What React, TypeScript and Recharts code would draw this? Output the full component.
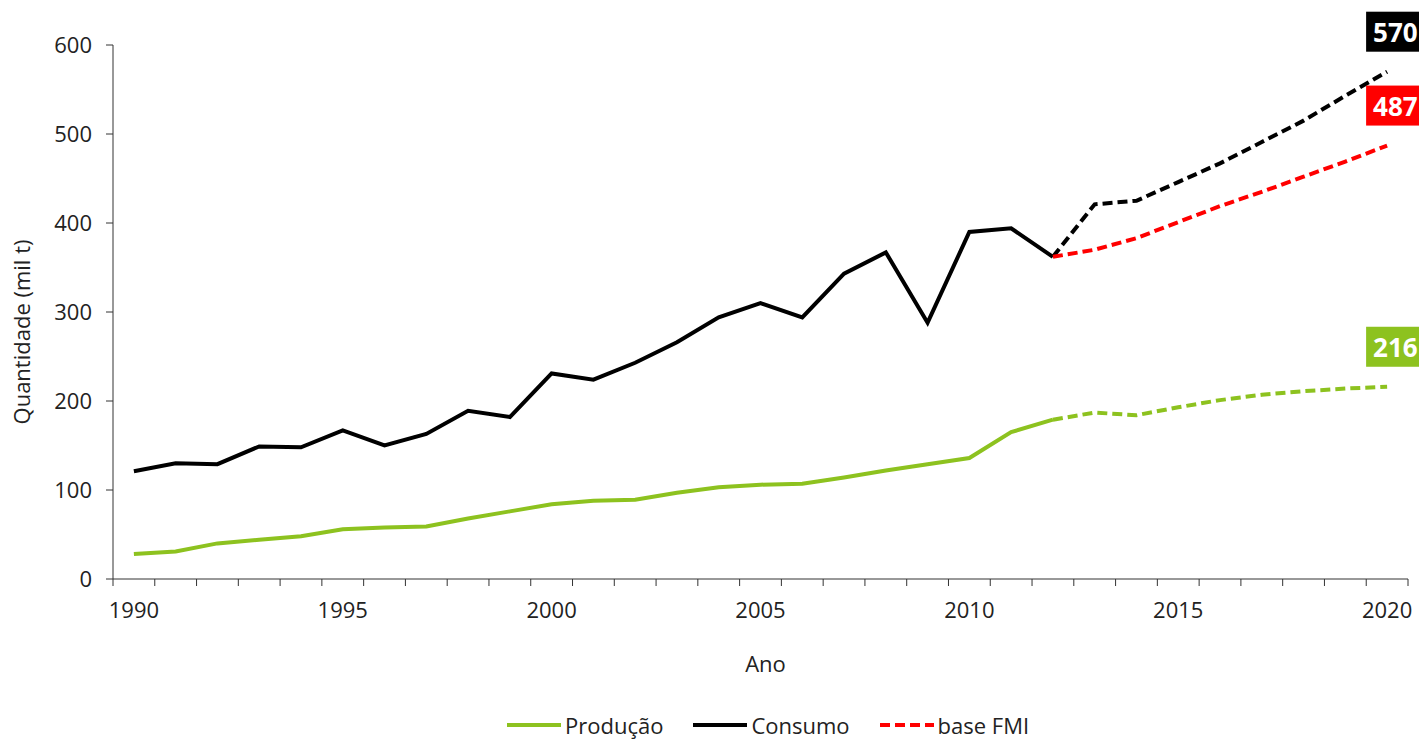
import { LineChart, Line, XAxis, YAxis, Legend, Label } from "recharts";

// Anos (categorias)
const ANOS = [
    1990, 1991, 1992, 1993, 1994, 1995, 1996, 1997, 1998, 1999, 2000,
    2001, 2002, 2003, 2004, 2005, 2006, 2007, 2008, 2009, 2010,
    2011, 2012, 2013, 2014, 2015, 2016, 2017, 2018, 2019, 2020
];

// Histórico 1990-2012 (mil t)
const PRODUCAO = [28, 31, 40, 44, 48, 56, 58, 59, 68, 76, 84, 88, 89, 97, 103, 106, 107, 114, 122, 129, 136, 165, 179];
const CONSUMO = [121, 130, 129, 149, 148, 167, 150, 163, 189, 182, 231, 224, 243, 266, 294, 310, 294, 343, 367, 288, 390, 394, 362];

// Projeções 2012-2020
const PROJ_INICIO = 2012;
const PRODUCAO_PROJ = [179, 187, 184, 193, 201, 207, 211, 214, 216];
const CONSUMO_PROJ = [362, 421, 425, 446, 467, 491, 515, 543, 570];
const BASE_FMI = [362, 370, 383, 401, 419, 435, 452, 469, 487];

const Y_TICKS = [0, 100, 200, 300, 400, 500, 600];
const X_LABELS = [1990, 1995, 2000, 2005, 2010, 2015, 2020];
const LEGENDA = ["Produção", "Consumo", "base FMI"];

const VERDE = "#8dc21f";
const PRETO = "#000000";
const VERMELHO = "#ff0000";
const FONT = '"Open Sans", sans-serif';

const data = ANOS.map((ano, i) => {
    const j = ano - PROJ_INICIO;
    return {
        ano,
        producao: i < PRODUCAO.length ? PRODUCAO[i] : null,
        consumo: i < CONSUMO.length ? CONSUMO[i] : null,
        producaoProj: j >= 0 ? PRODUCAO_PROJ[j] : null,
        consumoProj: j >= 0 ? CONSUMO_PROJ[j] : null,
        fmi: j >= 0 ? BASE_FMI[j] : null,
    };
});

// tick marks sit between years, labels every 5 years
const xTicks = [...ANOS.map(a => a - 0.5), ANOS[ANOS.length - 1] + 0.5, ...X_LABELS].sort((a, b) => a - b);

function AnoTick(props: any) {
    const { x, y, payload } = props;
    const v = payload.value;
    if (!Number.isInteger(v)) {
        return <line x1={x} x2={x} y1={y} y2={y + 7} stroke="#333" strokeWidth={1} />;
    }
    return (
        <text x={x} y={y + 39} textAnchor="middle" fill="#222" fontSize={22}>
            {v}
        </text>
    );
}

function YTitle(props: any) {
    const vb = props.viewBox;
    const cx = vb.x + 30;
    const cy = vb.y + vb.height / 2 + 20;
    return (
        <text x={cx} y={cy} transform={`rotate(-90 ${cx} ${cy})`} textAnchor="middle" fill="#222" fontSize={22}>
            Quantidade (mil t)
        </text>
    );
}

function XTitle(props: any) {
    const vb = props.viewBox;
    return (
        <text x={vb.x + vb.width / 2 + 5} y={vb.y + 93} textAnchor="middle" fill="#222" fontSize={22}>
            Ano
        </text>
    );
}

// colored value box above the last projected point
const endLabel = (fill: string) => (props: any) => {
    const vb = props.viewBox || {};
    const x = props.x ?? vb.x;
    const y = props.y ?? vb.y;
    if (props.index !== ANOS.length - 1 || props.value == null || x == null) return null;
    return (
        <g>
            <rect x={x - 21} y={y - 60} width={70} height={40} fill={fill} />
            <text x={x - 14} y={y - 30} fill="#fff" fontSize={26} fontWeight={700}>
                {props.value}
            </text>
        </g>
    );
};

function Legenda(props: any) {
    const { payload = [] } = props;
    const items = LEGENDA.map(nome => payload.find((p: any) => p.value === nome)).filter(Boolean);
    return (
        <div
            style={{
                display: "flex",
                alignItems: "center",
                height: 34,
                boxSizing: "border-box",
                paddingBottom: 4,
                paddingLeft: 507,
                fontSize: 22,
                lineHeight: "26px",
                color: "#222",
                fontFamily: FONT,
                whiteSpace: "nowrap",
            }}
        >
            {items.map((entry: any, i: number) => {
                const dashed = entry.value === "base FMI";
                return (
                    <div key={`leg-${i}`} style={{ display: "flex", alignItems: "center", marginRight: 30, flexShrink: 0 }}>
                        <svg width={54} height={6} style={{ marginRight: 4 }}>
                            <line
                                x1={0}
                                x2={54}
                                y1={3}
                                y2={3}
                                stroke={entry.color}
                                strokeWidth={4}
                                strokeDasharray={dashed ? "10 5" : undefined}
                            />
                        </svg>
                        <span>{entry.value}</span>
                    </div>
                );
            })}
        </div>
    );
}

export default function App() {
    return (
        <div style={{ position: "absolute", left: 0, top: 0, width: 1419, height: 744, overflow: "hidden", background: "#fff", fontFamily: FONT }}>
            <LineChart
                width={1419}
                height={744}
                data={data}
                margin={{ top: 45, right: 11, bottom: 0, left: 0 }}
                style={{ fontFamily: FONT }}
            >
                <XAxis
                    dataKey="ano"
                    type="number"
                    domain={[1989.5, 2020.5]}
                    ticks={xTicks}
                    interval={0}
                    height={131}
                    tick={<AnoTick />}
                    tickLine={false}
                    tickSize={0}
                    tickMargin={0}
                    axisLine={{ stroke: "#333", strokeWidth: 1 }}
                >
                    <Label content={<XTitle />} />
                </XAxis>
                <YAxis
                    type="number"
                    domain={[0, 600]}
                    ticks={Y_TICKS}
                    interval={0}
                    width={113}
                    tickSize={7}
                    tickMargin={14}
                    tick={{ fill: "#222", fontSize: 22 }}
                    tickLine={{ stroke: "#333" }}
                    axisLine={{ stroke: "#333", strokeWidth: 1 }}
                >
                    <Label content={<YTitle />} />
                </YAxis>
                <Legend verticalAlign="bottom" content={<Legenda />} />
                <Line
                    name="Produção"
                    dataKey="producao"
                    stroke={VERDE}
                    strokeWidth={4}
                    dot={false}
                    activeDot={false}
                    isAnimationActive={false}
                />
                <Line
                    name="producaoProj"
                    dataKey="producaoProj"
                    stroke={VERDE}
                    strokeWidth={4}
                    strokeDasharray="10 5"
                    dot={false}
                    activeDot={false}
                    legendType="none"
                    label={endLabel(VERDE)}
                    isAnimationActive={false}
                />
                <Line
                    name="Consumo"
                    dataKey="consumo"
                    stroke={PRETO}
                    strokeWidth={4}
                    dot={false}
                    activeDot={false}
                    isAnimationActive={false}
                />
                <Line
                    name="consumoProj"
                    dataKey="consumoProj"
                    stroke={PRETO}
                    strokeWidth={4}
                    strokeDasharray="10 5"
                    dot={false}
                    activeDot={false}
                    legendType="none"
                    label={endLabel(PRETO)}
                    isAnimationActive={false}
                />
                <Line
                    name="base FMI"
                    dataKey="fmi"
                    stroke={VERMELHO}
                    strokeWidth={4}
                    strokeDasharray="10 5"
                    dot={false}
                    activeDot={false}
                    label={endLabel(VERMELHO)}
                    isAnimationActive={false}
                />
            </LineChart>
        </div>
    );
}
